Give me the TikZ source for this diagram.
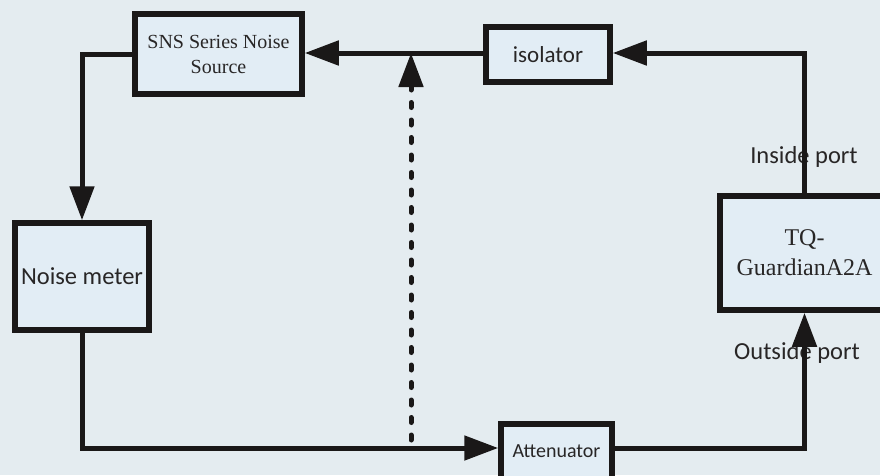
\documentclass[tikz,border=0pt]{standalone}
\usepackage{fontspec}
\setmainfont{Liberation Serif}
\newfontfamily\labfont{Carlito}
\usetikzlibrary{arrows.meta}
\definecolor{bgc}{RGB}{228,236,240}
\definecolor{boxfill}{RGB}{226,237,245}
\definecolor{ink}{RGB}{26,24,24}
\definecolor{txt}{RGB}{40,38,38}
\tikzset{
  box/.style={draw=ink, fill=boxfill, line width=5.5pt, inner sep=0pt, align=center, text=txt},
  conn/.style={draw=ink, line width=5pt, -{Triangle[length=34pt,width=24pt]}},
  plain/.style={draw=ink, line width=5pt},
  dotconn/.style={draw=ink, line width=5pt, line cap=round, dash pattern=on 5pt off 12.5pt, -{Triangle[length=34pt,width=24pt]}},
  lab/.style={text=txt, inner sep=0pt, font=\labfont\fontsize{24.5}{28}\selectfont}
}
\begin{document}
\begin{tikzpicture}[x=1pt,y=-1pt]
\useasboundingbox (0,0) rectangle (880,475);
\clip (0,0) rectangle (880,475);
\fill[bgc] (0,0) rectangle (880,475);
% labels (under lines)
\node[lab] (inlab) at (804,157) {Inside port};
\node[lab] (outlab) at (797,353) {Outside port};
% boxes
\node[box, minimum width=167pt, minimum height=80pt, font=\fontsize{20}{25}\selectfont] (sns) at (218.5,54) {SNS Series Noise\\Source};
\node[box, minimum width=124pt, minimum height=55pt, font=\labfont\fontsize{23}{27}\selectfont] (iso) at (548,54.5) {isolator};
\node[box, minimum width=134pt, minimum height=107pt, font=\labfont\fontsize{24.5}{28}\selectfont] (nm) at (82,276.5) {Noise meter};
\node[box, minimum width=169pt, minimum height=114pt, font=\fontsize{24}{30}\selectfont] (tq) at (804.5,253) {TQ-\\GuardianA2A};
\node[box, minimum width=111pt, minimum height=55pt, font=\labfont\fontsize{20}{24}\selectfont] (att) at (556.5,451.5) {Attenuator};
% helper coordinates
\coordinate (dtop) at (411,53);
\coordinate (dbot) at (411,440);
% connectors
\draw[conn] (iso.west |- 0,53) -- (sns.east |- 0,53);
\draw[conn] (tq.north) -- (tq.north |- 0,53) -- (iso.east |- 0,53);
\draw[conn] (sns.west |- 0,54) -| (nm.north);
\draw[conn] (nm.south) |- (att.west |- 0,448);
\draw[conn] (att.east |- 0,448) -| (tq.south);
\draw[dotconn] (dbot) -- (dtop);
\end{tikzpicture}
\end{document}
